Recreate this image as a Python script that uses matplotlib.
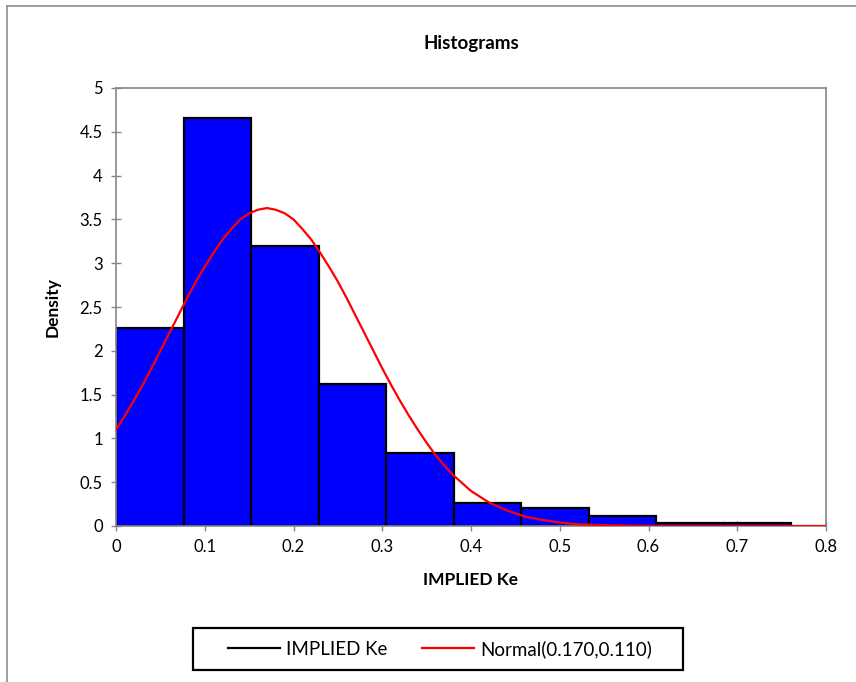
import numpy as np
import matplotlib
matplotlib.use('Agg')
import matplotlib.pyplot as plt
from matplotlib.lines import Line2D
from matplotlib.patches import Rectangle

plt.rcParams['font.family'] = ['Lato', 'DejaVu Sans']

# histogram bins (left edges) and densities
bin_width = 0.0761
bin_left = [0.0, 0.0761, 0.1522, 0.2283, 0.3044, 0.3805, 0.4566, 0.5327, 0.6088, 0.6849]
density = [2.26, 4.66, 3.20, 1.62, 0.83, 0.26, 0.20, 0.11, 0.03, 0.03]

# normal curve
curve_x = [0.00, 0.01, 0.02, 0.03, 0.04, 0.05, 0.06, 0.07, 0.08, 0.09, 0.10,
           0.11, 0.12, 0.13, 0.14, 0.15, 0.16, 0.17, 0.18, 0.19, 0.20,
           0.21, 0.22, 0.23, 0.24, 0.25, 0.26, 0.27, 0.28, 0.29, 0.30,
           0.31, 0.32, 0.33, 0.34, 0.35, 0.36, 0.37, 0.38, 0.39, 0.40,
           0.42, 0.44, 0.46, 0.48, 0.50, 0.52, 0.55, 0.60, 0.70, 0.80]
curve_y = [1.10, 1.26, 1.43, 1.61, 1.80, 2.00, 2.20, 2.40, 2.60, 2.79, 2.96,
           3.12, 3.27, 3.39, 3.50, 3.57, 3.61, 3.63, 3.61, 3.57, 3.50,
           3.39, 3.27, 3.12, 2.96, 2.79, 2.60, 2.40, 2.20, 2.00, 1.80,
           1.61, 1.43, 1.26, 1.10, 0.95, 0.81, 0.69, 0.58, 0.49, 0.40,
           0.27, 0.18, 0.11, 0.07, 0.04, 0.02, 0.01, 0.0, 0.0, 0.0]

W, H = 856, 682
fig = plt.figure(figsize=(W / 100, H / 100), dpi=100)

# outer chart frame (only left and top visible)
fig.add_artist(Line2D([7.5 / W, 7.5 / W], [0, 1 - 6 / H], color='#8c8c8c', lw=1.2))
fig.add_artist(Line2D([7.5 / W, 1], [1 - 6 / H, 1 - 6 / H], color='#8c8c8c', lw=1.2))

left, right, top, bottom = 116, 826, 88, 526
ax = fig.add_axes([left / W, 1 - bottom / H, (right - left) / W, (bottom - top) / H])

ax.bar(bin_left, density, width=bin_width, align='edge', color='#0000ff',
       edgecolor='black', linewidth=1.6, zorder=2)
ax.plot(curve_x, curve_y, color='#ff0000', lw=1.6, zorder=3)

ax.set_xlim(0, 0.8)
ax.set_ylim(0, 5)
ax.set_xticks(np.arange(0, 0.81, 0.1))
ax.set_xticklabels(['0', '0.1', '0.2', '0.3', '0.4', '0.5', '0.6', '0.7', '0.8'])
ax.set_yticks(np.arange(0, 5.01, 0.5))
ax.set_yticklabels(['0', '0.5', '1', '1.5', '2', '2.5', '3', '3.5', '4', '4.5', '5'])
ax.tick_params(direction='inout', length=7, width=1, color='#868686',
               labelsize=12, pad=6)

for s in ax.spines.values():
    s.set_color('#868686')
    s.set_linewidth(1.2)

ax.set_title('Histograms', fontsize=13.5, fontweight='bold', pad=28)
ax.set_xlabel('IMPLIED Ke', fontsize=12.5, fontweight='bold', labelpad=12)
ax.set_ylabel('Density', fontsize=12.5, fontweight='bold', labelpad=14)

# legend box drawn separately so the padding matches
fig.add_artist(Rectangle((193 / W, 1 - 670 / H), 490 / W, 42 / H, transform=fig.transFigure,
                         fill=False, edgecolor='black', linewidth=1.6))
handles = [Line2D([], [], color='black', lw=1.6),
           Line2D([], [], color='#ff0000', lw=1.6)]
leg = fig.legend(handles, ['IMPLIED Ke', 'Normal(0.170,0.110)'], loc='center',
                 bbox_to_anchor=(440 / W, 1 - 649 / H), ncol=2, fontsize=13.5,
                 frameon=False, handlelength=2.77, columnspacing=1.85,
                 borderpad=0.3, borderaxespad=0, handletextpad=0.32)

fig.savefig('out.png', dpi=100)
